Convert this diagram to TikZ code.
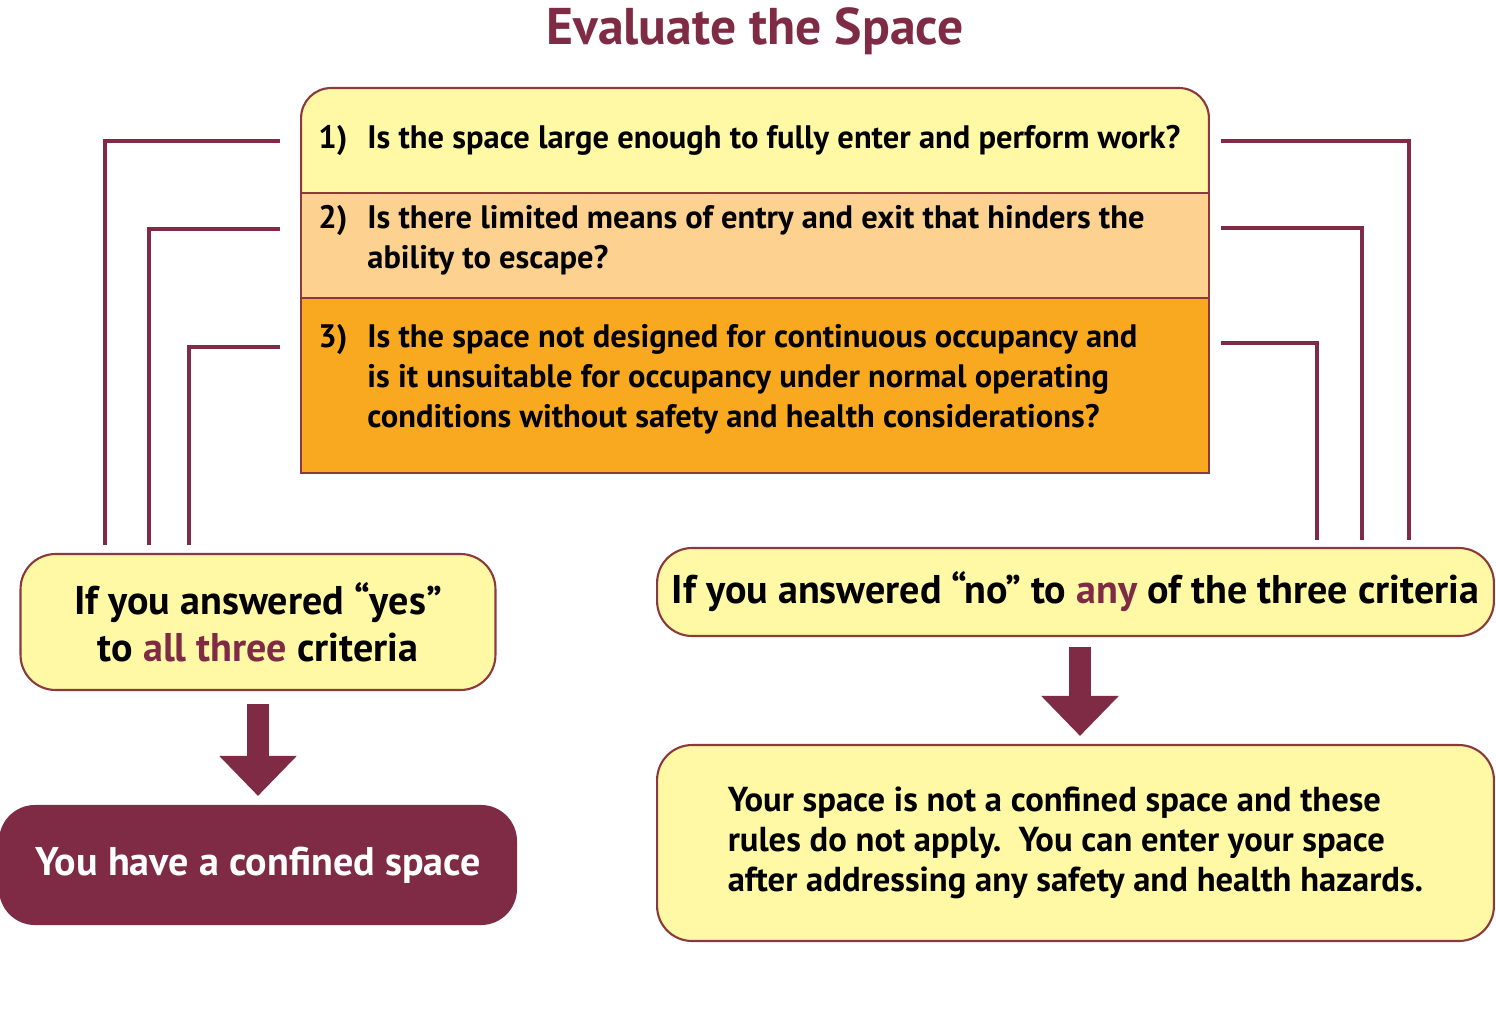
\documentclass[tikz,border=0pt]{standalone}
\usepackage{fontspec}
\setmainfont{PT Sans}
\usepackage{xcolor}
\usetikzlibrary{positioning,calc,arrows.meta}

\definecolor{wine}{HTML}{7F2B46}
\definecolor{edgebrown}{HTML}{8A3A3C}
\definecolor{paleyellow}{HTML}{FFF8A4}
\definecolor{peach}{HTML}{FDD18F}
\definecolor{amber}{HTML}{F9A920}

\tikzset{
  qrow/.style={minimum width=18.16cm, inner sep=0pt, outer sep=0pt, draw=edgebrown, line width=1.2pt},
  qtext/.style={anchor=west, inner sep=0pt, font=\fontsize{18.5}{22.76}\selectfont\bfseries},
  answer/.style={draw=edgebrown, line width=1.2pt, fill=paleyellow, rounded corners=0.7cm, inner sep=0pt, align=center, font=\fontsize{22.8}{26.7}\selectfont\bfseries},
  link/.style={draw=wine, line width=0.08cm},
  downarrow/.style={draw=wine, line width=0.44cm, -{Triangle[width=1.5cm,length=0.8cm]}},
}

\begin{document}
\begin{tikzpicture}[x=0.02cm,y=-0.02cm]
    \path[use as bounding box] (0,0) rectangle (1496,1031);

    % Title
    \node[font=\fontsize{29.4}{32}\selectfont\bfseries, text=wine] (title) at (755,31) {Evaluate the Space};

    % Question rows
    \node[qrow, draw=none, minimum height=2.1cm] (q1) at (755,140.5) {};
    \filldraw[fill=paleyellow, draw=edgebrown, line width=1.2pt, rounded corners=0.6cm]
        (q1.south west) -- (q1.north west) -- (q1.north east) -- (q1.south east);
    \node[qrow, minimum height=2.1cm, fill=peach, below=0pt of q1] (q2) {};
    \node[qrow, minimum height=3.5cm, fill=amber, below=0pt of q2] (q3) {};

    \node[qtext] (t1) at ([xshift=0.34cm]q1.west)
        {\begin{tabular}{@{}p{0.98cm}@{}l@{}}1) & Is the space large enough to fully enter and perform work?\end{tabular}};
    \node[qtext] (t2) at ([xshift=0.34cm,yshift=0.1cm]q2.west)
        {\begin{tabular}{@{}p{0.98cm}@{}l@{}}2) & Is there limited means of entry and exit that hinders the\\ & ability to escape?\end{tabular}};
    \node[qtext] (t3) at ([xshift=0.34cm,yshift=0.11cm]q3.west)
        {\begin{tabular}{@{}p{0.98cm}@{}l@{}}3) & Is the space not designed for continuous occupancy and\\ & is it unsuitable for occupancy under normal operating\\ & conditions without safety and health considerations?\end{tabular}};

    % Answers
    \node[answer, minimum width=9.5cm, minimum height=2.72cm] (yes) at (258,622)
        {If you answered “yes”\\to \textcolor{wine}{all three} criteria};
    \node[answer, minimum width=16.74cm, minimum height=1.76cm] (no) at (1075.5,592)
        {If you answered “no” to \textcolor{wine}{any} of the three criteria};

    % Results
    \node[answer, fill=wine, draw=wine, text=white, minimum width=10.32cm, minimum height=2.36cm] (conf) at (258,865)
        {You have a confined space};
    \node[answer, align=left, minimum width=16.74cm, minimum height=3.92cm, font=\fontsize{19.7}{22.76}\selectfont\bfseries] (result) at (1075.5,843)
        {Your space is not a confined space and these\\rules do not apply.\enspace You can enter your space\\after addressing any safety and health hazards.};

    % Left connectors
    \draw[link] ([xshift=-0.42cm]q1.west) -| ([xshift=1.72cm,yshift=0.16cm]yes.north west);
    \draw[link] ([xshift=-0.42cm,yshift=0.33cm]q2.west) -| ([xshift=2.6cm,yshift=0.16cm]yes.north west);
    \draw[link] ([xshift=-0.42cm,yshift=0.77cm]q3.west) -| ([xshift=3.4cm,yshift=0.16cm]yes.north west);

    % Right connectors
    \draw[link] ([xshift=0.24cm]q1.east) -| ([xshift=-1.72cm,yshift=0.14cm]no.north east);
    \draw[link] ([xshift=0.24cm,yshift=0.35cm]q2.east) -| ([xshift=-2.66cm,yshift=0.14cm]no.north east);
    \draw[link] ([xshift=0.24cm,yshift=0.85cm]q3.east) -| ([xshift=-3.56cm,yshift=0.14cm]no.north east);

    % Arrows
    \draw[downarrow] ([yshift=-0.26cm]yes.south) -- ([yshift=0.18cm]conf.north);
    \draw[downarrow] ([xshift=0.09cm,yshift=-0.2cm]no.south) -- ([xshift=0.09cm,yshift=0.16cm]result.north);

\end{tikzpicture}
\end{document}
